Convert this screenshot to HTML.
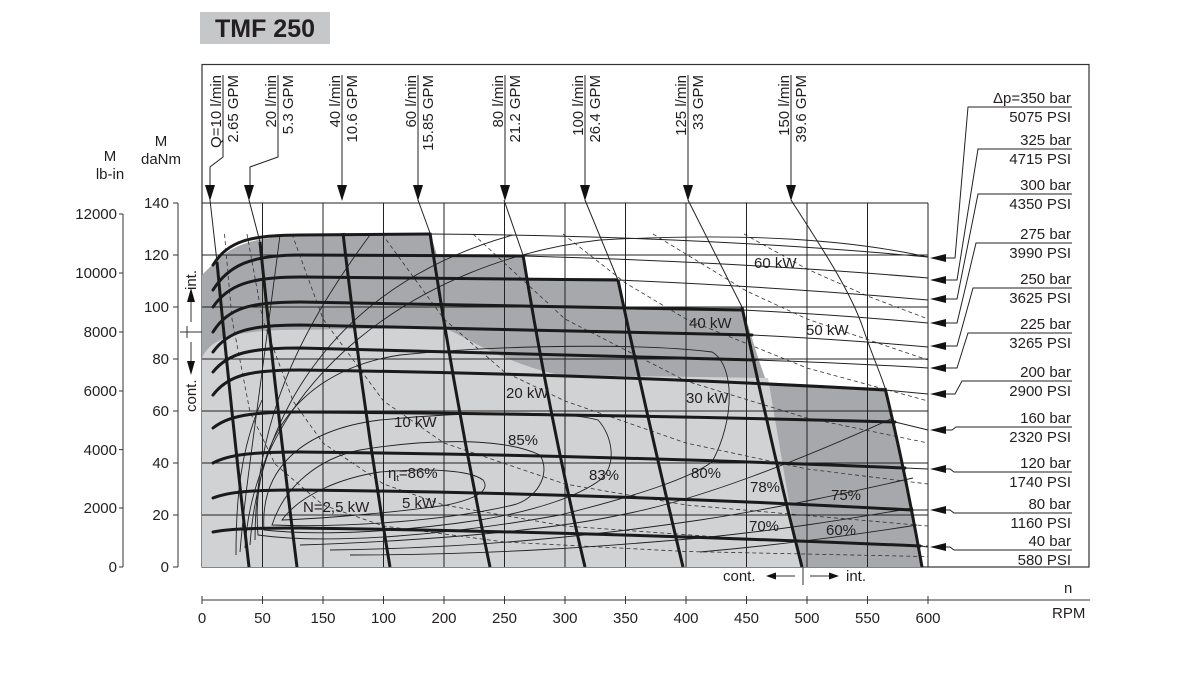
<!DOCTYPE html>
<html><head><meta charset="utf-8"><style>
html,body{margin:0;padding:0;background:#fff;}
svg{display:block;font-family:"Liberation Sans",Arial,sans-serif;}
</style></head><body>
<svg width="1193" height="681" viewBox="0 0 1193 681" xmlns="http://www.w3.org/2000/svg">
<!-- title -->
<rect x="200" y="12" width="130" height="32" fill="#c6c7c8"/>
<text x="265" y="37" font-size="25" font-weight="bold" text-anchor="middle" fill="#231f20">TMF 250</text>

<!-- outer frame -->
<rect x="202" y="64.5" width="887" height="502.5" fill="none" stroke="#333" stroke-width="1.2"/>

<!-- fills -->
<path d="M202,275 L215,262 C232,245 255,237 300,235 L430,233 L437,255 L523,255 L528,278 L617,278 L623,307 L742,307 C750,330 758,360 767,383 L885,388 C900,440 912,500 922,567 L202,567 Z" fill="#a7a8ab"/>
<path d="M202,358 C210,340 230,332 280,330 L445,328 C470,340 510,365 560,375 L768,378 L800,567 L202,567 Z" fill="#d1d2d4"/>

<!-- grid -->
<g stroke="#222" stroke-width="1" fill="none">
<path d="M202,203H928M202,255H928M202,307H928M202,359H928M202,411H928M202,463H928M202,515H928"/>
<path d="M262.5,203V567M323,203V567M383.5,203V567M444,203V567M504.5,203V567M565,203V567M625.5,203V567M686,203V567M746.5,203V567M807,203V567M867.5,203V567M928,203V567"/>
</g>

<!-- power hyperbolas dashed -->
<g stroke="#333" stroke-width="0.8" fill="none" stroke-dasharray="4,3">
<polyline points="224.5,234 232,319 250,412 275,464 323,505 383.5,526 504.5,542 686,551.5 928,556.6"/>
<polyline points="247,234 262.5,319 293,401 323,443 383.5,484 444,505 565,526 746.5,539 928,546"/>
<polyline points="292,234 323,319 383.5,401 444,443 565,484 686,505 928,526"/>
<polyline points="382,234 444,319 504.5,372 565,401 686,443 807,469 928,484"/>
<polyline points="473,234 565,319 686,381 807,418 928,443"/>
<polyline points="563,234 625.5,283 686,319 807,368 928,401"/>
<polyline points="653,234 746.5,291 807,319 928,360"/>
<polyline points="744,234 807,269 867.5,296 928,319"/>
</g>

<!-- efficiency contours -->
<g stroke="#222" stroke-width="0.9" fill="none">
<path d="M282,520 C300,495 340,478 380,472 C430,468 470,470 483,480 C492,492 470,500 447,505 C400,512 330,518 282,520 Z"/>
<path d="M272,525 C285,485 320,458 360,450 C420,440 500,436 540,455 C552,475 535,500 513,505 C450,520 350,528 272,525 Z"/>
<path d="M264,530 C260,470 300,430 380,420 C460,412 560,410 598,420 C612,435 618,465 600,480 C580,495 540,510 480,520 C400,532 320,536 264,530 Z"/>
<path d="M258,535 C250,440 300,370 400,355 C500,345 640,343 712,352 C735,365 735,420 712,462 C690,478 640,495 560,515 C450,535 330,545 258,535 Z"/>
<path d="M255,540 C255,420 300,330 370,235"/>
<path d="M250,545 C260,400 350,280 513,235"/>
<path d="M245,548 C255,380 420,260 600,240 C750,232 850,240 928,257"/>
<path d="M240,552 C245,490 255,430 280,235"/>
<path d="M300,545 C450,540 560,528 620,515 C700,500 800,460 893,418"/>
<path d="M330,550 C480,548 600,535 700,520 C780,508 860,490 913,478"/>
<path d="M350,555 C500,555 620,545 700,538 C800,528 870,515 913,508"/>
<path d="M700,552 C780,545 860,534 917,525"/>
<path d="M236,555 C236,500 240,450 262,400"/>
</g>

<!-- thin pressure continuations -->
<g stroke="#222" stroke-width="1" fill="none">
<path d="M430,234 Q700,236 928,257"/>
<path d="M523,256 Q740,262 928,278"/>
<path d="M617,280 Q780,287 928,300"/>
<path d="M742,310 Q840,315 928,323"/>
<path d="M752,335 Q850,340 928,347"/>
<path d="M755,360 Q850,363 928,368"/>
<path d="M885,390 L928,394"/>
<path d="M895,422 L928,430"/>
<path d="M905,468 L928,469"/>
<path d="M912,510 L928,510"/>
<path d="M920,546 L928,547"/>
</g>

<!-- thick pressure curves -->
<g stroke="#1a1a1a" stroke-width="3" fill="none" stroke-linecap="round">
<path d="M213,265 C228,241 250,235 300,235 L430,234"/>
<path d="M213,290 C228,266 250,255 300,255 L523,256"/>
<path d="M213,307 C228,285 250,277 300,277 L617,280"/>
<path d="M213,332 C228,308 250,302 300,302 L742,310"/>
<path d="M213,352 C228,331 250,325 300,325 L752,335"/>
<path d="M213,372 C228,353 250,348 300,348 L755,360"/>
<path d="M213,395 C228,375 250,370 300,370 Q600,374 885,390"/>
<path d="M213,428 C228,416 250,412 300,412 Q600,414 895,422"/>
<path d="M213,463 C228,455 250,452 300,452 Q600,455 905,468"/>
<path d="M213,498 C228,492 250,490 300,490 Q600,493 912,510"/>
<path d="M213,532 C228,529 250,528 300,528 Q600,532 920,546"/>
</g>

<!-- thick flow curves -->
<g stroke="#1a1a1a" stroke-width="3" fill="none">
<path d="M217,262 Q230,400 249,567"/>
<path d="M260,242 Q276,400 297,567"/>
<path d="M343,233 Q362,400 390,567"/>
<path d="M430,233 Q455,400 490,567"/>
<path d="M523,255 Q550,420 585,567"/>
<path d="M618,280 Q650,430 683,567"/>
<path d="M742,307 Q770,440 802,567"/>
<path d="M885,388 Q905,470 922,567"/>
</g>
<!-- thin flow extensions -->
<g stroke="#222" stroke-width="1" fill="none">
<path d="M210,200 L217,262"/>
<path d="M249,200 L260,242"/>
<path d="M418,200 L430,233"/>
<path d="M504,200 L523,255"/>
<path d="M585,200 L618,280"/>
<path d="M688,200 L742,307"/>
<path d="M791,200 C820,245 850,290 863,328 C872,355 880,372 885,388"/>
<!-- top connectors -->
<path d="M223,75 V157 L210,167 V186"/>
<path d="M278,75 V157 L250,167 V186"/>
<path d="M342,75 V186"/>
<path d="M418,75 V186"/>
<path d="M505,75 V186"/>
<path d="M585,75 V186"/>
<path d="M688,75 V186"/>
<path d="M791,75 V186"/>
</g>
<g fill="#111">
<path d="M205,185 L215,185 L210,201 Z"/>
<path d="M244,185 L254,185 L249,201 Z"/>
<path d="M337,185 L347,185 L342,201 Z"/>
<path d="M413,185 L423,185 L418,201 Z"/>
<path d="M500,185 L510,185 L505,201 Z"/>
<path d="M580,185 L590,185 L585,201 Z"/>
<path d="M683,185 L693,185 L688,201 Z"/>
<path d="M786,185 L796,185 L791,201 Z"/>
</g>
<!-- top rotated labels -->
<g font-size="15" fill="#231f20" text-anchor="end">
<text transform="translate(221,75) rotate(-90)">Q=10 l/min</text>
<text transform="translate(238,75) rotate(-90)">2.65 GPM</text>
<text transform="translate(276,75) rotate(-90)">20 l/min</text>
<text transform="translate(293,75) rotate(-90)">5.3 GPM</text>
<text transform="translate(340,75) rotate(-90)">40 l/min</text>
<text transform="translate(357,75) rotate(-90)">10.6 GPM</text>
<text transform="translate(416,75) rotate(-90)">60 l/min</text>
<text transform="translate(433,75) rotate(-90)">15.85 GPM</text>
<text transform="translate(503,75) rotate(-90)">80 l/min</text>
<text transform="translate(520,75) rotate(-90)">21.2 GPM</text>
<text transform="translate(583,75) rotate(-90)">100 l/min</text>
<text transform="translate(600,75) rotate(-90)">26.4 GPM</text>
<text transform="translate(686,75) rotate(-90)">125 l/min</text>
<text transform="translate(703,75) rotate(-90)">33 GPM</text>
<text transform="translate(789,75) rotate(-90)">150 l/min</text>
<text transform="translate(806,75) rotate(-90)">39.6 GPM</text>
</g>

<!-- right pressure labels -->
<g stroke="#222" stroke-width="1" fill="none">
<path d="M945,258 H955 L968,107 H1072"/>
<path d="M945,280 H957 L978,149 H1072"/>
<path d="M945,299 H957 L978,194 H1072"/>
<path d="M945,323 H957 L976,243 H1072"/>
<path d="M945,346 H957 L973,288 H1072"/>
<path d="M945,368 H957 L968,333 H1072"/>
<path d="M945,394 H955 L962,381 H1072"/>
<path d="M945,430 H952 L956,427 H1072"/>
<path d="M945,469 H950 L954,472 H1072"/>
<path d="M945,510 H950 L954,513 H1072"/>
<path d="M945,547 H950 L954,550 H1072"/>
</g>
<g fill="#111">
<path d="M930,258 L946,254 L946,262 Z"/>
<path d="M930,280 L946,276 L946,284 Z"/>
<path d="M930,299 L946,295 L946,303 Z"/>
<path d="M930,323 L946,319 L946,327 Z"/>
<path d="M930,346 L946,342 L946,350 Z"/>
<path d="M930,368 L946,364 L946,372 Z"/>
<path d="M930,394 L946,390 L946,398 Z"/>
<path d="M930,430 L946,426 L946,434 Z"/>
<path d="M930,469 L946,465 L946,473 Z"/>
<path d="M930,510 L946,506 L946,514 Z"/>
<path d="M930,547 L946,543 L946,551 Z"/>
</g>
<g font-size="15" fill="#231f20" text-anchor="end">
<text x="1071" y="103">Δp=350 bar</text><text x="1071" y="122">5075 PSI</text>
<text x="1071" y="145">325 bar</text><text x="1071" y="164">4715 PSI</text>
<text x="1071" y="190">300 bar</text><text x="1071" y="209">4350 PSI</text>
<text x="1071" y="239">275 bar</text><text x="1071" y="258">3990 PSI</text>
<text x="1071" y="284">250 bar</text><text x="1071" y="303">3625 PSI</text>
<text x="1071" y="329">225 bar</text><text x="1071" y="348">3265 PSI</text>
<text x="1071" y="377">200 bar</text><text x="1071" y="396">2900 PSI</text>
<text x="1071" y="423">160 bar</text><text x="1071" y="442">2320 PSI</text>
<text x="1071" y="468">120 bar</text><text x="1071" y="487">1740 PSI</text>
<text x="1071" y="509">80 bar</text><text x="1071" y="528">1160 PSI</text>
<text x="1071" y="546">40 bar</text><text x="1071" y="565">580 PSI</text>
</g>

<!-- in-plot labels -->
<g font-size="15" fill="#231f20">
<text x="754" y="268">60 kW</text>
<text x="806" y="335">50 kW</text>
<text x="689" y="328">40 kW</text>
<text x="686" y="403">30 kW</text>
<text x="506" y="398">20 kW</text>
<text x="394" y="427">10 kW</text>
<text x="508" y="445">85%</text>
<text x="388" y="478">η<tspan font-size="9" dy="3">t</tspan><tspan dy="-3">=86%</tspan></text>
<text x="402" y="508">5 kW</text>
<text x="303" y="512">N=2,5 kW</text>
<text x="589" y="480">83%</text>
<text x="691" y="478">80%</text>
<text x="750" y="492">78%</text>
<text x="831" y="500">75%</text>
<text x="749" y="531">70%</text>
<text x="826" y="535">60%</text>
</g>

<!-- left axes -->
<g stroke="#333" stroke-width="1" fill="none">
<path d="M178,203V567"/>
<path d="M173,203H178M173,255H178M173,307H178M173,359H178M173,411H178M173,463H178M173,515H178M173,567H178"/>
<path d="M123,214V567"/>
<path d="M119,214H123M119,273H123M119,332H123M119,391H123M119,449.6H123M119,508H123M119,567H123"/>
<path d="M180,332H202M187,326V338"/>
<path d="M191,322V300M191,342V362"/>
</g>
<g fill="#111">
<path d="M187,302 L195,302 L191,288 Z"/>
<path d="M187,361 L195,361 L191,375 Z"/>
</g>
<g font-size="15" fill="#231f20">
<text transform="translate(196,290) rotate(-90)" text-anchor="start">int.</text>
<text transform="translate(196,412) rotate(-90)" text-anchor="start">cont.</text>
</g>
<g font-size="15" fill="#231f20" text-anchor="end">
<text x="169" y="208">140</text><text x="169" y="260">120</text><text x="169" y="312">100</text>
<text x="169" y="364">80</text><text x="169" y="416">60</text><text x="169" y="468">40</text>
<text x="169" y="520">20</text><text x="169" y="572">0</text>
<text x="117" y="219">12000</text><text x="117" y="278">10000</text><text x="117" y="337">8000</text>
<text x="117" y="396">6000</text><text x="117" y="455">4000</text><text x="117" y="513">2000</text>
<text x="117" y="572">0</text>
</g>
<g font-size="15" fill="#231f20" text-anchor="middle">
<text x="161" y="146">M</text><text x="161" y="164">daNm</text>
<text x="110" y="161">M</text><text x="110" y="179">lb-in</text>
</g>

<!-- bottom axis -->
<g stroke="#333" stroke-width="1" fill="none">
<path d="M202,600H1090"/>
<path d="M202,596V604M262.5,596V604M323,596V604M383.5,596V604M444,596V604M504.5,596V604M565,596V604M625.5,596V604M686,596V604M746.5,596V604M807,596V604M867.5,596V604M928,596V604"/>
<path d="M803,567V585M795,576H772M810,576H832"/>
</g>
<g fill="#111">
<path d="M766,576 L776,572.5 L776,579.5 Z"/>
<path d="M839,576 L829,572.5 L829,579.5 Z"/>
</g>
<g font-size="15" fill="#231f20">
<text x="723" y="581">cont.</text>
<text x="846" y="581">int.</text>
<text x="1064" y="593">n</text>
<text x="1052" y="618">RPM</text>
</g>
<g font-size="15" fill="#231f20" text-anchor="middle">
<text x="202" y="623">0</text><text x="262.5" y="623">50</text><text x="323" y="623">150</text>
<text x="383.5" y="623">100</text><text x="444" y="623">200</text><text x="504.5" y="623">250</text>
<text x="565" y="623">300</text><text x="625.5" y="623">350</text><text x="686" y="623">400</text>
<text x="746.5" y="623">450</text><text x="807" y="623">500</text><text x="867.5" y="623">550</text>
<text x="928" y="623">600</text>
</g>
</svg>
</body></html>
